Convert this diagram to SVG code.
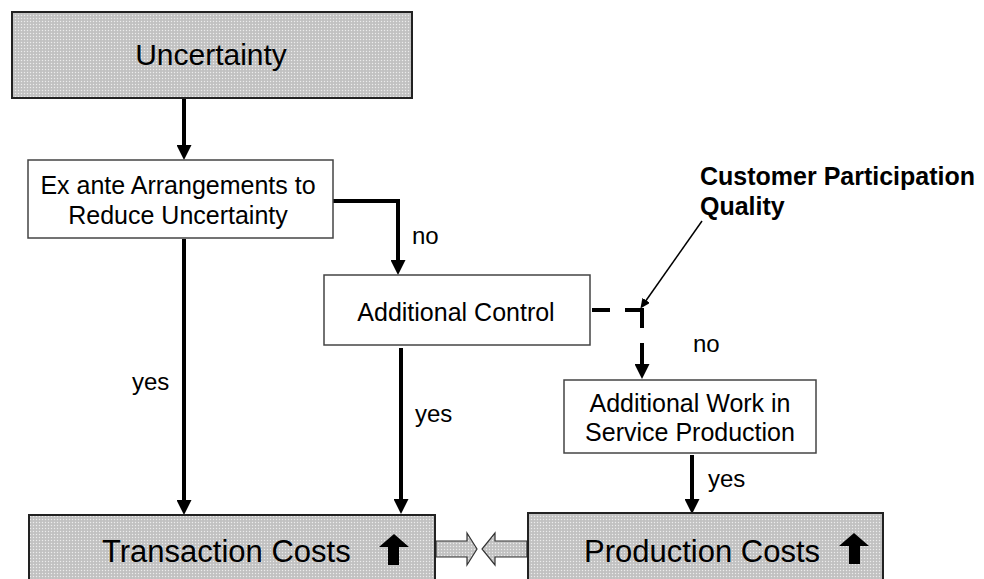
<svg xmlns="http://www.w3.org/2000/svg" width="984" height="579" viewBox="0 0 984 579">
<style>
  text { font-family: "Liberation Sans", Arial, sans-serif; fill: #000; }
  .big { font-size: 30px; }
  .t { font-size: 25px; }
  .lbl { font-size: 24px; }
  .bold { font-size: 25px; font-weight: bold; }
  .gbox { fill: url(#dots); stroke: #222; stroke-width: 2; }
  .wbox { fill: #fff; stroke: #444; stroke-width: 1.5; }
  .conn { fill: none; stroke: #000; stroke-width: 4; marker-end: url(#ah); }
  .dash { fill: none; stroke: #000; stroke-width: 4; stroke-dasharray: 18 15 35 15 40; marker-end: url(#ah); }
  .thin { fill: none; stroke: #000; stroke-width: 1.5; marker-end: url(#ahs); }
  .hollow { fill: url(#dots); stroke: #333; stroke-width: 1.2; }
</style>
<defs>
  <pattern id="dots" width="3" height="3" patternUnits="userSpaceOnUse">
    <rect width="3" height="3" fill="#c6c6c6"/>
    <rect width="1" height="1" fill="#ececec"/>
    <rect x="1.5" y="1.5" width="1" height="1" fill="#b4b4b4"/>
  </pattern>
  <marker id="ah" markerUnits="userSpaceOnUse" markerWidth="15" markerHeight="15" refX="4" refY="7.5" orient="auto">
    <path d="M0,0 L15,7.5 L0,15 z" fill="#000"/>
  </marker>
  <marker id="ahs" markerUnits="userSpaceOnUse" markerWidth="10" markerHeight="10" refX="2" refY="4.5" orient="auto">
    <path d="M0,0 L10,4.5 L0,9 z" fill="#000"/>
  </marker>
</defs>

<g id="connectors">
  <path class="conn" d="M184,99 V149"/>
  <path class="conn" d="M333,201 H398 V264"/>
  <path class="conn" d="M184,239 V504"/>
  <path class="conn" d="M401,348 V503"/>
  <path class="dash" d="M592,310 H642 V368"/>
  <path class="thin" d="M702,221 L645,302"/>
  <path class="conn" d="M692,455 V503"/>
  <polygon class="hollow" points="436,541 467,541 467,533 477,549 467,565 467,557 436,557"/>
  <polygon class="hollow" points="527,541 495,541 495,533 482,549 495,565 495,557 527,557"/>
</g>

<g id="uncertainty">
  <rect class="gbox" x="12" y="12" width="400" height="86"/>
  <text class="big" x="211" y="65" text-anchor="middle">Uncertainty</text>
</g>

<g id="ex-ante">
  <rect class="wbox" x="28" y="160" width="305" height="78"/>
  <text class="t" x="178" y="194" text-anchor="middle">Ex ante Arrangements to</text>
  <text class="t" x="178" y="224" text-anchor="middle">Reduce Uncertainty</text>
</g>

<g id="additional-control">
  <rect class="wbox" x="324" y="275" width="266" height="70"/>
  <text class="t" x="456" y="321" text-anchor="middle">Additional Control</text>
</g>

<g id="customer-participation">
  <text class="bold" x="700" y="185">Customer Participation</text>
  <text class="bold" x="700" y="215">Quality</text>
</g>

<g id="additional-work">
  <rect class="wbox" x="564" y="380" width="252" height="73"/>
  <text class="t" x="690" y="412" text-anchor="middle">Additional Work in</text>
  <text class="t" x="690" y="441" text-anchor="middle">Service Production</text>
</g>

<g id="labels">
  <text class="lbl" x="412" y="244">no</text>
  <text class="lbl" x="693" y="352">no</text>
  <text class="lbl" x="132" y="390">yes</text>
  <text class="lbl" x="415" y="422">yes</text>
  <text class="lbl" x="708" y="487">yes</text>
</g>

<g id="transaction-costs">
  <rect class="gbox" x="29" y="515" width="406" height="70"/>
  <text class="big" x="102" y="562" style="font-size:31px">Transaction Costs</text>
  <polygon points="394,534 409,547 399,547 399,565 388,565 388,547 379,547" fill="#000"/>
</g>

<g id="production-costs">
  <rect class="gbox" x="528" y="513" width="355" height="72"/>
  <text class="big" x="584" y="562" style="font-size:31px">Production Costs</text>
  <polygon points="854,533 869,546 860,546 860,564 849,564 849,546 839,546" fill="#000"/>
</g>
</svg>
